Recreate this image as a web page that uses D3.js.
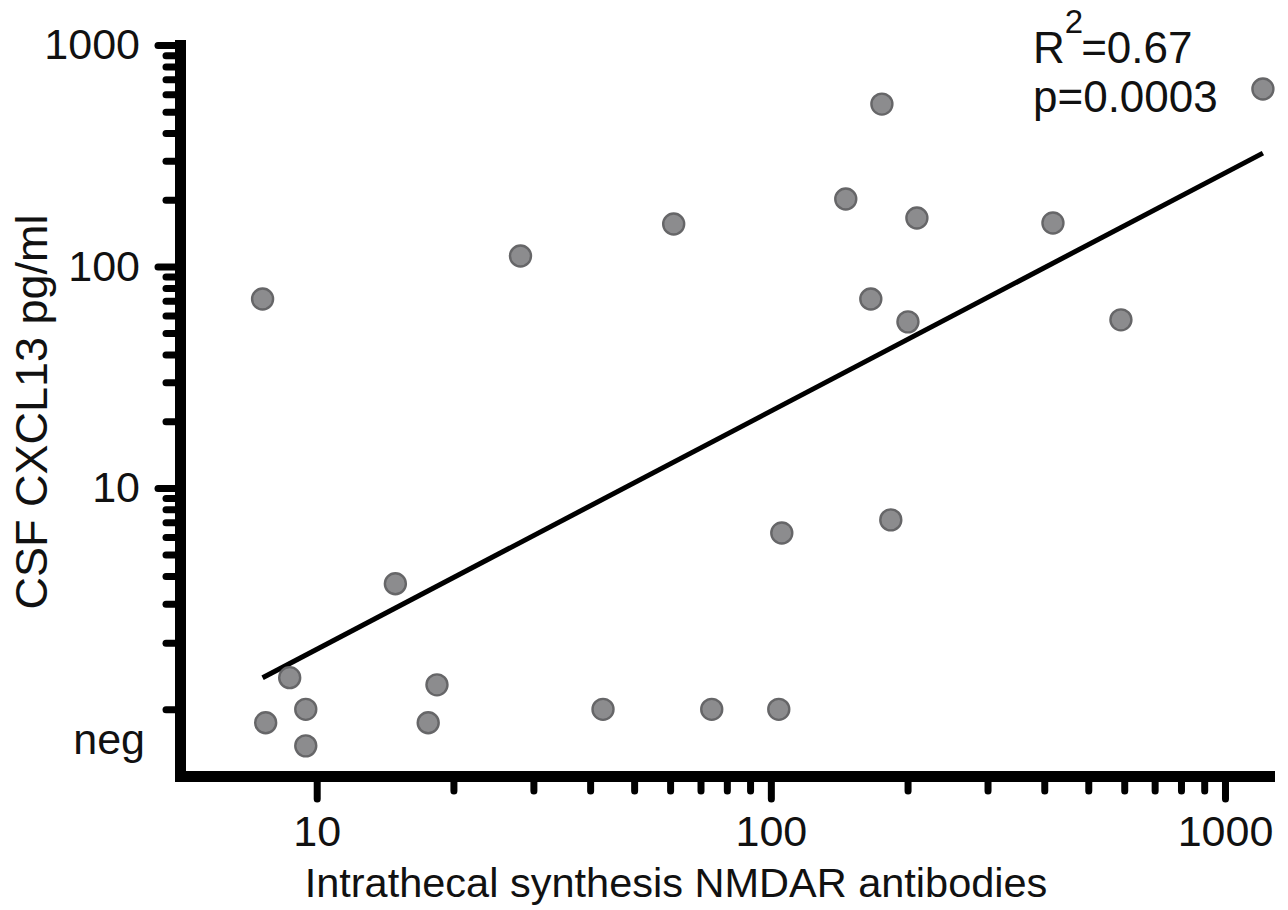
<!DOCTYPE html>
<html lang="en">
    <head>
        <meta charset="utf-8" />
        <title>CSF CXCL13 vs NMDAR antibodies</title>
        <script src="https://d3js.org/d3.v7.min.js"></script>
        <style>
            html, body { margin:0; padding:0; overflow:hidden; background-color: #ffffff }
            svg { display:block }
            text { font-family: "Liberation Sans", Arial, sans-serif; fill: #111 }
        </style>
    </head>
    <body>
        <svg id="svg" width="1288" height="910"></svg>
        <script>

            // values (x: intrathecal synthesis, y: CSF CXCL13)
            let xVals = [7.6, 14.9, 28.1, 61.1, 175.6, 146.2, 209.7, 166, 200.4, 418, 590, 1212,
                         105.7, 183.7, 104.1, 74.1, 42.7, 18.4, 17.6, 8.72, 9.46, 7.72, 9.46];
            let yVals = [71.3, 3.69, 111.5, 155.5, 541, 201.7, 165.5, 71.3, 56.2, 157.2, 57.4, 633,
                         6.26, 7.17, 1.0, 1.0, 1.0, 1.29, 0.87, 1.39, 1.0, 0.87, 0.684];

            let xMajor = [10, 100, 1000];
            let xMinor = [20, 30, 40, 50, 60, 70, 80, 90, 200, 300, 400, 500, 600, 700, 800, 900];
            let yMajor = [10, 100, 1000];
            let yMinor = [1, 2, 3, 4, 5, 6, 7, 8, 9, 20, 30, 40, 50, 60, 70, 80, 90,
                          200, 300, 400, 500, 600, 700, 800, 900];
            let negTick = [0.73];

            // regression line end points
            let fitX = [7.6, 1212];
            let fitY = [1.39, 325];

            let r2Text = "0.67";
            let pText = "0.0003";

            let svg = d3.select("svg");

            let x = d3.scaleLog()
                .domain([5, 1250])
                .range([180, 1269]);

            let y = d3.scaleLog()
                .domain([0.5, 1000])
                .range([776, 45]);

            // axes
            let xMinorAxis = svg.append("g")
                .attr("transform", "translate(0,776)")
                .call(d3.axisBottom(x).tickValues(xMinor).tickSize(15).tickSizeOuter(0).tickFormat(""));
            let xMajorAxis = svg.append("g")
                .attr("transform", "translate(0,776)")
                .call(d3.axisBottom(x).tickValues(xMajor).tickSize(23).tickSizeOuter(0)
                    .tickPadding(16).tickFormat(d3.format("d")));

            let yMinorAxis = svg.append("g")
                .attr("transform", "translate(180,0)")
                .call(d3.axisLeft(y).tickValues(yMinor).tickSize(14).tickSizeOuter(0).tickFormat(""));
            let yMajorAxis = svg.append("g")
                .attr("transform", "translate(180,0)")
                .call(d3.axisLeft(y).tickValues(yMajor).tickSize(22).tickSizeOuter(0)
                    .tickPadding(18).tickFormat(d3.format("d")));
            let yNegAxis = svg.append("g")
                .attr("transform", "translate(180,0)")
                .call(d3.axisLeft(y).tickValues(negTick).tickSize(0).tickSizeOuter(0)
                    .tickPadding(35).tickFormat(() => "neg"));

            svg.selectAll(".tick line")
                .attr("stroke", "#000")
                .attr("stroke-width", 7)
                .attr("stroke-linecap", "round");
            svg.selectAll(".tick text")
                .style("font-size", "43px")
                .attr("fill", "#111");
            [xMinorAxis, yMinorAxis, yNegAxis].forEach(a => a.select(".domain").remove());
            [xMajorAxis, yMajorAxis].forEach(a => a.select(".domain")
                .attr("stroke", "#000")
                .attr("stroke-width", 11)
                .attr("stroke-linecap", "square"));

            // regression line
            let line = d3.line()
                .x(d => x(d[0]))
                .y(d => y(d[1]));
            svg.append("path")
                .attr("d", line(d3.zip(fitX, fitY)))
                .attr("fill", "none")
                .attr("stroke", "#000")
                .attr("stroke-width", 5);

            // points
            svg.append("g")
                .selectAll("circle")
                .data(d3.zip(xVals, yVals))
                .join("circle")
                .attr("cx", d => x(d[0]))
                .attr("cy", d => y(d[1]))
                .attr("r", 10.5)
                .attr("fill", "#8c8c8e")
                .attr("stroke", "#666668")
                .attr("stroke-width", 2.4);

            // axis titles
            svg.append("text")
                .attr("x", 676)
                .attr("y", 897)
                .attr("text-anchor", "middle")
                .style("font-size", "41.5px")
                .text("Intrathecal synthesis NMDAR antibodies");

            svg.append("text")
                .attr("transform", "translate(47,412) rotate(-90)")
                .attr("text-anchor", "middle")
                .style("font-size", "45px")
                .text("CSF CXCL13 pg/ml");

            // statistics
            let r2 = svg.append("text")
                .attr("x", 1033)
                .attr("y", 63)
                .style("font-size", "44px");
            r2.append("tspan").text("R");
            r2.append("tspan").attr("dy", -30).style("font-size", "33px").text("2");
            r2.append("tspan").attr("dy", 30).attr("dx", -2).text("=" + r2Text);

            svg.append("text")
                .attr("x", 1033)
                .attr("y", 112)
                .style("font-size", "44px")
                .text("p=" + pText);

        </script>
    </body>
</html>
